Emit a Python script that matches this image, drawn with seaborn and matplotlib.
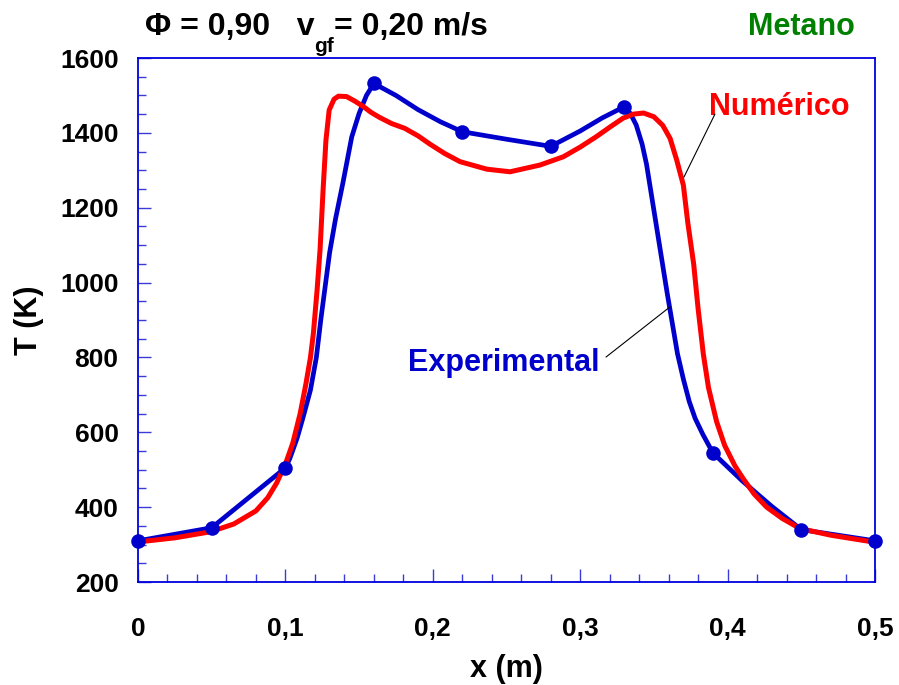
import numpy as np
import pandas as pd
import matplotlib
matplotlib.use("Agg")
import matplotlib.pyplot as plt
import seaborn as sns
from matplotlib.ticker import MultipleLocator

# ---------------- data ----------------
# experimental measurement points (markers)
x_exp_pts = [0.00, 0.05, 0.10, 0.16, 0.22, 0.28, 0.33, 0.39, 0.45, 0.50]
T_exp_pts = [310, 345, 505, 1532, 1403, 1364, 1470, 545, 340, 310]

# experimental smoothed curve
x_exp_curve = [0.000, 0.050, 0.100, 0.103, 0.108, 0.112, 0.117, 0.121, 0.124,
               0.127, 0.130, 0.134, 0.139, 0.145, 0.150, 0.155, 0.160, 0.175,
               0.190, 0.205, 0.220, 0.250, 0.280, 0.300, 0.315, 0.330, 0.334,
               0.338, 0.342, 0.345, 0.352, 0.359, 0.366, 0.370, 0.374, 0.378,
               0.383, 0.390, 0.410, 0.430, 0.450, 0.475, 0.500]
T_exp_curve = [310, 345, 505, 530, 585, 640, 713, 800, 900,
               990, 1080, 1170, 1266, 1389, 1452, 1500, 1532, 1500,
               1462, 1430, 1403, 1383, 1364, 1405, 1440, 1470, 1452,
               1421, 1370, 1316, 1144, 972, 810, 742, 682, 637,
               596, 545, 470, 402, 340, 325, 310]

# numerical curve (red line)
x_num = [0.000, 0.025, 0.049, 0.065, 0.080, 0.088, 0.094, 0.100, 0.105, 0.110,
         0.114, 0.117, 0.119, 0.1215, 0.1235, 0.1256, 0.1275, 0.1297, 0.133, 0.136,
         0.1415, 0.147, 0.153, 0.158, 0.164, 0.172, 0.181, 0.190, 0.198, 0.208,
         0.2185, 0.2366, 0.2524, 0.2727, 0.2885, 0.300, 0.311, 0.320, 0.329, 0.336,
         0.343, 0.350, 0.356, 0.361, 0.3655, 0.370, 0.373, 0.377, 0.380, 0.3835,
         0.387, 0.3925, 0.398, 0.405, 0.4106, 0.418, 0.4265, 0.437, 0.449, 0.470,
         0.4986]
T_num = [307, 318, 334, 355, 390, 425, 464, 515, 571, 650,
         731, 800, 865, 980, 1087, 1250, 1380, 1461, 1490, 1498,
         1497, 1485, 1470, 1455, 1441, 1425, 1412, 1392, 1370, 1345,
         1323, 1303, 1296, 1314, 1336, 1362, 1390, 1415, 1439, 1450,
         1453, 1443, 1420, 1385, 1327, 1260, 1160, 1049, 930, 810,
         720, 629, 565, 510, 476, 435, 400, 370, 343, 325,
         307]

x_ticks = [0.0, 0.1, 0.2, 0.3, 0.4, 0.5]
x_tick_labels = ["0", "0,1", "0,2", "0,3", "0,4", "0,5"]
y_ticks = [200, 400, 600, 800, 1000, 1200, 1400, 1600]
y_tick_labels = ["200", "400", "600", "800", "1000", "1200", "1400", "1600"]

# leader lines for the in-plot labels (data coords)
lead_num_x = [0.3914, 0.3704]
lead_num_T = [1450, 1282]
lead_exp_x = [0.3175, 0.3609]
lead_exp_T = [801, 935]

# ---------------- styling ----------------
sns.set_theme(style="white")
plt.rcParams["font.family"] = ["Liberation Sans", "DejaVu Sans"]
plt.rcParams["font.weight"] = "bold"
plt.rcParams["axes.labelweight"] = "bold"
plt.rcParams["axes.labelcolor"] = "black"
plt.rcParams["text.color"] = "black"

BLUE = "#0000CC"
RED = "#FF0000"
FRAME = "#0000DD"
TICK = "#3A3AD8"
GREEN = "#008000"

W, H = 899, 685
fig = plt.figure(figsize=(W / 100, H / 100), dpi=100)
ax = fig.add_axes([138 / W, 1 - 582 / H, (875 - 138) / W, (582 - 58) / H])

df_exp_curve = pd.DataFrame({"x": x_exp_curve, "T": T_exp_curve})
df_exp_pts = pd.DataFrame({"x": x_exp_pts, "T": T_exp_pts})
df_num = pd.DataFrame({"x": x_num, "T": T_num})

sns.lineplot(data=df_exp_curve, x="x", y="T", ax=ax, color=BLUE, lw=3.4,
             sort=False, estimator=None, zorder=3)
sns.lineplot(data=df_num, x="x", y="T", ax=ax, color=RED, lw=3.6,
             sort=False, estimator=None, zorder=4)
sns.scatterplot(data=df_exp_pts, x="x", y="T", ax=ax, color=BLUE, s=110,
                edgecolor=BLUE, linewidth=0, zorder=5, clip_on=False)

# leader lines and labels
ax.plot(lead_num_x, lead_num_T, color="black", lw=0.8, zorder=6)
ax.plot(lead_exp_x, lead_exp_T, color="black", lw=0.8, zorder=6)
ax.text(0.3874, 1448, "Numérico", color=RED, fontsize=22, fontweight="bold",
        ha="left", va="baseline")
ax.text(0.1832, 764, "Experimental", color=BLUE, fontsize=22, fontweight="bold",
        ha="left", va="baseline")

ax.set_xlim(0, 0.5)
ax.set_ylim(200, 1600)
ax.set_xticks(x_ticks)
ax.set_xticklabels(x_tick_labels)
ax.set_yticks(y_ticks)
ax.set_yticklabels(y_tick_labels)
ax.xaxis.set_minor_locator(MultipleLocator(0.02))
ax.yaxis.set_minor_locator(MultipleLocator(50))
ax.tick_params(which="both", direction="in", color=TICK, labelcolor="black",
               top=False, right=False, left=True, bottom=True, width=1.0)
ax.tick_params(which="major", length=9.5)
ax.tick_params(which="minor", length=5.5)
ax.tick_params(axis="x", which="major", labelsize=19, pad=25)
ax.tick_params(axis="y", which="major", labelsize=19, pad=14)
for lab in ax.get_xticklabels() + ax.get_yticklabels():
    lab.set_fontweight("bold")

for sp in ax.spines.values():
    sp.set_visible(True)
    sp.set_color(FRAME)
    sp.set_linewidth(1.3)

ax.set_xlabel("x (m)", fontsize=22, fontweight="bold", color="black")
ax.set_ylabel("T (K)", fontsize=22, fontweight="bold", color="black")
ax.xaxis.set_label_coords(0.5, -(669 - 582) / 524)
ax.xaxis.label.set_va("center")
ax.yaxis.set_label_coords((29 - 138) / 737, 0.5)
ax.yaxis.label.set_va("center")
ax.yaxis.label.set_ha("center")

# title pieces (positioned in pixels)
renderer = fig.canvas.get_renderer()
def px(x, y):
    return x / W, 1 - y / H

t1 = fig.text(*px(145, 35), "Φ = 0,90   v", fontsize=23, fontweight="bold",
              ha="left", va="baseline", color="black")
bb = t1.get_window_extent(renderer)
t2 = fig.text(bb.x1 / W, 1 - 52 / H, "gf", fontsize=15, fontweight="bold",
              ha="left", va="baseline", color="black")
bb2 = t2.get_window_extent(renderer)
t3 = fig.text(bb2.x1 / W, 1 - 35 / H, "= 0,20 m/s", fontsize=23,
              fontweight="bold", ha="left", va="baseline", color="black")
fig.text(*px(855, 35), "Metano", fontsize=22, fontweight="bold", ha="right",
         va="baseline", color=GREEN)

fig.savefig("out.png", dpi=100)
